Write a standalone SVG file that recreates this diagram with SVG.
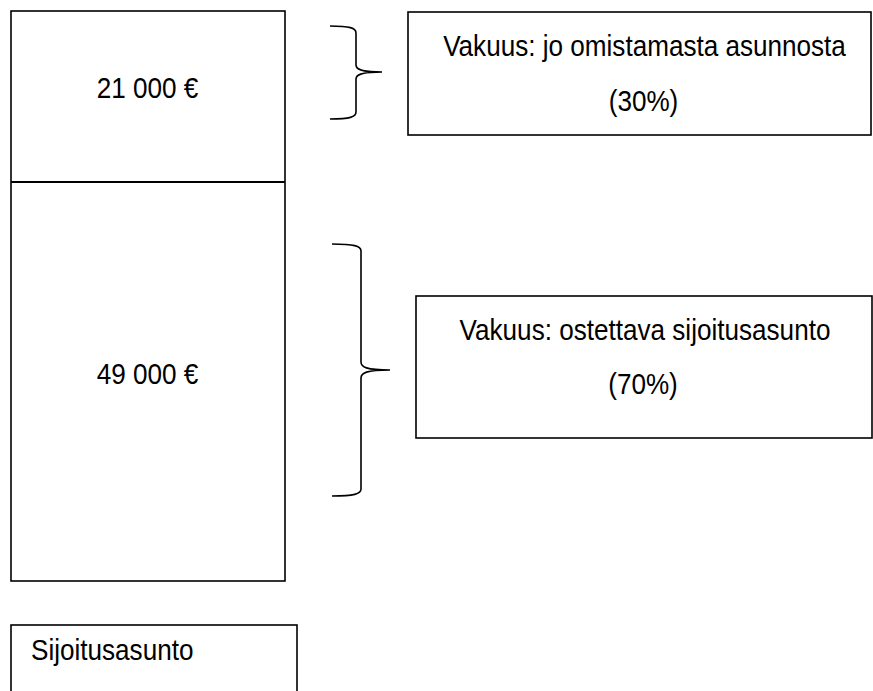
<svg xmlns="http://www.w3.org/2000/svg" width="873" height="691" viewBox="0 0 873 691">
<style>
.box{fill:#fff;stroke:#000;stroke-width:1.6}
.brace{fill:none;stroke:#000;stroke-width:1.6}
.t{font-family:"Liberation Sans",Arial,sans-serif;font-size:30px;fill:#000;text-anchor:middle}
.l{text-anchor:start}
</style>
<rect width="873" height="691" fill="#fff"/>
<g id="stack">
<rect class="box" x="11" y="11" width="274" height="570" stroke-width="2"/>
<line x1="11" y1="182" x2="285" y2="182" stroke="#000" stroke-width="2"/>
</g>
<g id="part-21000">
<text class="t" transform="translate(147.5,98) scale(0.87,1)">21 000 €</text>
</g>
<g id="part-49000">
<text class="t" transform="translate(147.5,384) scale(0.87,1)">49 000 €</text>
</g>
<g id="connectors">
<path class="brace" d="M330,26 C350,26 356,28 356,33 L356,65 C356,69 360,72 382,72 C360,72 356,75 356,79 L356,112 C356,117 350,119 330,119"/>
<path class="brace" d="M332,244 C354,244 361,246 361,251 L361,362 C361,367 366,370 390,370 C366,370 361,373 361,378 L361,489 C361,494 354,496 332,496"/>
</g>
<g id="box-30">
<rect class="box" x="408" y="12" width="463" height="123"/>
<text class="t" transform="translate(644.5,56) scale(0.87,1)">Vakuus: jo omistamasta asunnosta</text>
<text class="t" transform="translate(643.5,111) scale(0.87,1)">(30%)</text>
</g>
<g id="box-70">
<rect class="box" x="416" y="296" width="456" height="142"/>
<text class="t" transform="translate(645,340) scale(0.87,1)">Vakuus: ostettava sijoitusasunto</text>
<text class="t" transform="translate(643,394) scale(0.87,1)">(70%)</text>
</g>
<g id="label">
<rect class="box" x="11" y="625" width="286" height="80"/>
<text class="t l" transform="translate(31,660) scale(0.87,1)">Sijoitusasunto</text>
</g>
</svg>
